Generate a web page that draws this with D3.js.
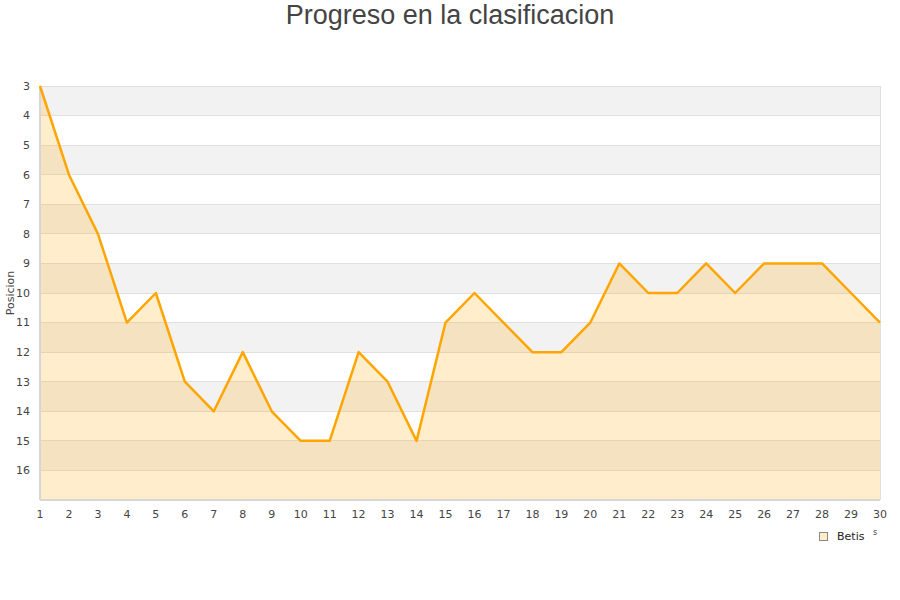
<!DOCTYPE html>
<html><head><meta charset="utf-8">
<script src="https://cdn.jsdelivr.net/npm/d3@7"></script>
<style>body{margin:0;background:#fff}svg{display:block}</style>
</head><body>
<svg id="c" width="900" height="600"></svg>
<script>
const jornadas = d3.range(1, 31);
const posiciones = [3,6,8,11,10,13,14,12,14,15,15,12,13,15,11,10,11,12,12,11,9,10,10,9,10,9,9,9,10,11];
const yTicks = d3.range(3, 17);
const serieNombre = "Betis";
const titulo = "Progreso en la clasificacion";
const ejeY = "Posicion";

const svg = d3.select("#c");
const m = {l:40, r:880, t:86, b:500};
const x = d3.scaleLinear().domain([1,30]).range([m.l, m.r]);
const y = d3.scaleLinear().domain([3,17]).range([m.t, m.b]);

// bands
const bands = d3.range(3, 17, 2);
svg.append("g").selectAll("rect").data(bands).join("rect")
  .attr("x", m.l).attr("width", m.r - m.l)
  .attr("y", d => y(d)).attr("height", d => y(d+1) - y(d))
  .attr("fill", "#f2f2f2");

// grid
svg.append("g").selectAll("line").data(yTicks).join("line")
  .attr("x1", m.l).attr("x2", m.r)
  .attr("y1", d => y(d)).attr("y2", d => y(d))
  .attr("stroke", "#e0e0e0").attr("stroke-width", 1).attr("shape-rendering","crispEdges");

// area
const area = d3.area().x((d,i) => x(jornadas[i])).y0(y(17)).y1(d => y(d));
svg.append("path").datum(posiciones).attr("d", area)
  .attr("fill", "rgba(255,165,0,0.2)");

// border
svg.append("line").attr("x1", m.r).attr("x2", m.r).attr("y1", m.t).attr("y2", m.b)
  .attr("stroke", "#e0e0e0").attr("shape-rendering","crispEdges");
svg.append("line").attr("x1", m.l).attr("x2", m.l).attr("y1", m.t).attr("y2", m.b)
  .attr("stroke", "#d6d6d6").attr("stroke-width", 1.5).attr("shape-rendering","crispEdges");
svg.append("line").attr("x1", m.l).attr("x2", m.r).attr("y1", m.b).attr("y2", m.b)
  .attr("stroke", "#d6d6d6").attr("stroke-width", 1.5).attr("shape-rendering","crispEdges");

// line
const line = d3.line().x((d,i) => x(jornadas[i])).y(d => y(d));
svg.append("path").datum(posiciones).attr("d", line)
  .attr("fill", "none").attr("stroke", "#ffa500").attr("stroke-width", 2.5)
  .attr("stroke-linejoin", "round");

// y tick labels
const font = "DejaVu Sans, Verdana, sans-serif";
svg.append("g").selectAll("text").data(yTicks).join("text")
  .attr("x", 30).attr("y", d => y(d)).attr("dy", "0.35em")
  .attr("text-anchor", "end").attr("font-family", font).attr("font-size", 11)
  .attr("fill", "#444").text(d => d);

// x tick labels
svg.append("g").selectAll("text").data(jornadas).join("text")
  .attr("x", d => x(d)).attr("y", 518)
  .attr("text-anchor", "middle").attr("font-family", font).attr("font-size", 11)
  .attr("fill", "#444").text(d => d);

// y axis title
svg.append("text").attr("transform", "translate(14,293) rotate(-90)")
  .attr("text-anchor", "middle").attr("font-family", font).attr("font-size", 11)
  .attr("fill", "#444").text(ejeY);

// title
svg.append("text").attr("x", 450).attr("y", 24).attr("text-anchor", "middle")
  .attr("font-family", "Liberation Sans, Arial, sans-serif").attr("font-size", 27)
  .attr("fill", "#444").text(titulo);

// legend
svg.append("rect").attr("x", 819.5).attr("y", 532.5).attr("width", 8).attr("height", 8)
  .attr("fill", "#ffedcc").attr("stroke", "#888").attr("stroke-width", 1);
svg.append("text").attr("x", 837).attr("y", 540).attr("font-family", font)
  .attr("font-size", 11).attr("fill", "#222").text(serieNombre);
svg.append("text").attr("x", 873).attr("y", 535).attr("font-family", font)
  .attr("font-size", 8).attr("fill", "#444").text("s");
</script>
</body></html>
